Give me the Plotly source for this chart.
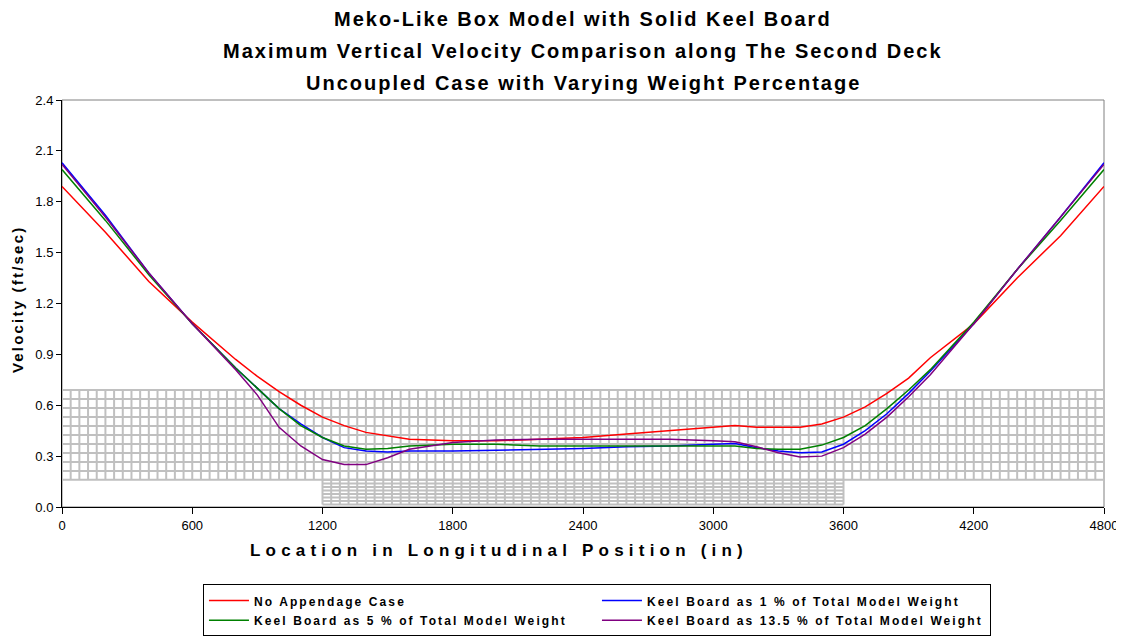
import numpy as np
import plotly.graph_objects as go

# ---------------- data ----------------
location = [0, 200, 400, 600, 800, 900, 1000, 1100, 1200, 1300, 1400, 1500, 1600, 1800,
            2000, 2200, 2400, 2600, 2800, 3000, 3100, 3200, 3300, 3400, 3500, 3600,
            3700, 3800, 3900, 4000, 4200, 4400, 4600, 4800]

no_appendage = [1.89, 1.62, 1.33, 1.09, 0.87, 0.77, 0.68, 0.60, 0.53, 0.48, 0.44, 0.42, 0.40, 0.39,
                0.39, 0.40, 0.41, 0.43, 0.45, 0.47, 0.48, 0.47, 0.47, 0.47, 0.49, 0.53,
                0.59, 0.67, 0.76, 0.88, 1.08, 1.35, 1.60, 1.89]

keel_1pct = [2.03, 1.72, 1.38, 1.08, 0.82, 0.70, 0.58, 0.49, 0.41, 0.35, 0.33, 0.325, 0.33, 0.33,
             0.335, 0.34, 0.345, 0.355, 0.36, 0.37, 0.375, 0.35, 0.33, 0.32, 0.325, 0.37,
             0.45, 0.55, 0.67, 0.80, 1.08, 1.40, 1.71, 2.03]

keel_5pct = [1.99, 1.69, 1.37, 1.08, 0.82, 0.70, 0.58, 0.48, 0.41, 0.36, 0.34, 0.345, 0.36, 0.37,
             0.37, 0.36, 0.36, 0.36, 0.36, 0.36, 0.36, 0.345, 0.34, 0.34, 0.365, 0.41,
             0.48, 0.58, 0.69, 0.81, 1.09, 1.40, 1.69, 1.99]

keel_13_5pct = [2.02, 1.71, 1.38, 1.08, 0.81, 0.66, 0.47, 0.36, 0.28, 0.25, 0.25, 0.29, 0.34, 0.38,
                0.395, 0.40, 0.40, 0.40, 0.40, 0.39, 0.385, 0.355, 0.32, 0.295, 0.30, 0.35,
                0.43, 0.53, 0.65, 0.78, 1.08, 1.40, 1.71, 2.02]

series_names = ["No Appendage Case",
                "Keel Board as 1 % of Total Model Weight",
                "Keel Board as 5 % of Total Model Weight",
                "Keel Board as 13.5 % of Total Model Weight"]
series_values = [no_appendage, keel_1pct, keel_5pct, keel_13_5pct]
series_colors = ["#FF0000", "#0000FF", "#008000", "#800080"]

x_ticks = [0, 600, 1200, 1800, 2400, 3000, 3600, 4200, 4800]
y_ticks = [0.0, 0.3, 0.6, 0.9, 1.2, 1.5, 1.8, 2.1, 2.4]

title_lines = ["Meko-Like Box Model with Solid Keel Board",
               "Maximum Vertical Velocity Comparison along The Second Deck",
               "Uncoupled Case with Varying Weight Percentage"]
x_title = "Location in Longitudinal Position (in)"
y_title = "Velocity (ft/sec)"

# background hull mesh (decorative picture behind the chart)
upper_mesh_x = np.arange(0, 4801, 40)
upper_mesh_y = np.linspace(0.16, 0.69, 11)
lower_mesh_x = np.arange(1200, 3601, 40)
lower_mesh_y = np.linspace(0.015, 0.16, 8)

FONT = "Liberation Sans, Arial, sans-serif"


def mesh_path(xs, ys):
    parts = []
    for xv in xs:
        parts.append(f"M{xv},{ys[0]} L{xv},{ys[-1]}")
    for yv in ys:
        parts.append(f"M{xs[0]},{yv} L{xs[-1]},{yv}")
    return " ".join(parts)


def spaced(text, sp, size=None):
    st = f"letter-spacing:{sp}px"
    if size:
        st += f";font-size:{size}px"
    return f'<span style="{st}">{text}</span>'


fig = go.Figure()
for name, vals, col in zip(series_names, series_values, series_colors):
    fig.add_trace(go.Scatter(x=location, y=vals, mode="lines",
                             name="<b>" + spaced(name, 2.1, 12) + "</b>",
                             line=dict(color=col, width=1.5)))

shapes = [
    dict(type="path", path=mesh_path(upper_mesh_x, upper_mesh_y), xref="x", yref="y",
         line=dict(color="rgb(192,192,192)", width=2), layer="below"),
    dict(type="path", path=mesh_path(lower_mesh_x, lower_mesh_y), xref="x", yref="y",
         line=dict(color="rgb(192,192,192)", width=2), layer="below"),
    dict(type="rect", xref="paper", yref="paper", x0=0, x1=1, y0=0, y1=1,
         line=dict(color="#808080", width=1), layer="below"),
]

annotations = []
title_y = [1.199, 1.120, 1.042]
for t, yy in zip(title_lines, title_y):
    annotations.append(dict(text="<b>" + spaced(t, 2.0) + "</b>", x=0.5, y=yy,
                            xref="paper", yref="paper",
                            xanchor="center", yanchor="middle", showarrow=False,
                            font=dict(family=FONT, size=20, color="black")))
annotations.append(dict(text="<b>" + spaced(x_title, 5.2) + "</b>", x=0.419, y=-0.108,
                        xref="paper", yref="paper", xanchor="center", yanchor="middle",
                        showarrow=False, font=dict(family=FONT, size=17, color="black")))
annotations.append(dict(text="<b>" + spaced(y_title, 2.2) + "</b>", x=-0.042, y=0.509,
                        xref="paper", yref="paper", xanchor="center", yanchor="middle",
                        textangle=-90, showarrow=False,
                        font=dict(family=FONT, size=15, color="black")))

fig.update_layout(
    width=1116, height=631,
    margin=dict(l=54, r=20, t=92, b=132),
    paper_bgcolor="white", plot_bgcolor="white",
    font=dict(family=FONT, size=13, color="black"),
    showlegend=True,
    legend=dict(orientation="h", x=0.1747, xanchor="left", xref="container",
                y=0.004, yanchor="bottom", yref="container",
                bgcolor="white", bordercolor="black", borderwidth=1,
                entrywidth=338, entrywidthmode="pixels", itemwidth=40,
                font=dict(family=FONT, size=13, color="black"), tracegroupgap=0),
    shapes=shapes,
    annotations=annotations,
    xaxis=dict(range=[0, 4800], tickvals=x_ticks, ticks="outside", ticklen=6,
               tickcolor="black", showline=True, linecolor="black", linewidth=1,
               showgrid=False, zeroline=False, tickfont=dict(size=13), automargin=False),
    yaxis=dict(range=[0, 2.4], tickvals=y_ticks, tickformat=".1f", ticks="outside",
               ticklen=5, tickcolor="black", showline=True, linecolor="black", linewidth=1,
               showgrid=False, zeroline=False, tickfont=dict(size=13), automargin=False),
)

fig.write_html("out.html")
